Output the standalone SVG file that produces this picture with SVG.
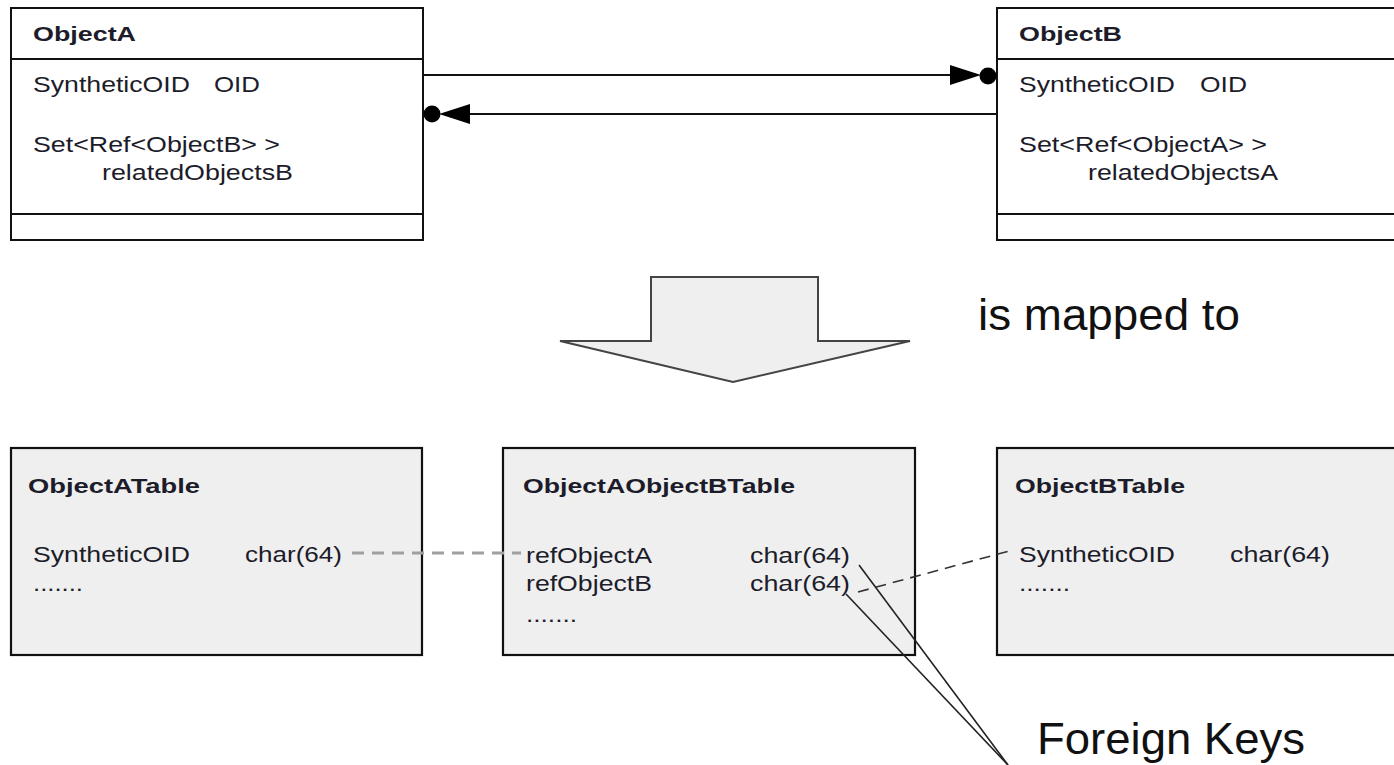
<svg xmlns="http://www.w3.org/2000/svg" width="1394" height="765" viewBox="0 0 1394 765">
<style>
.box{fill:#ffffff;stroke:#111;stroke-width:2}
.tbl{fill:#efefef;stroke:#111;stroke-width:2.2}
.sep{stroke:#111;stroke-width:2}
.t{font-family:"Liberation Sans",Arial,sans-serif;font-size:22px;fill:#1c1c2a}
.b{font-family:"Liberation Sans",Arial,sans-serif;font-size:21px;font-weight:bold;fill:#1c1c2a}
.big{font-family:"Liberation Sans",Arial,sans-serif;font-size:45px;fill:#111}
.conn{stroke:#111;stroke-width:2;fill:none}
</style>
<rect width="1394" height="765" fill="#ffffff"/>
<g id="objectA">
<rect class="box" x="11" y="8" width="412" height="232"/>
<line class="sep" x1="11" y1="59" x2="423" y2="59"/>
<line class="sep" x1="11" y1="214" x2="423" y2="214"/>
<text class="b" x="33" y="41" textLength="103" lengthAdjust="spacingAndGlyphs">ObjectA</text>
<text class="t" x="33" y="92" textLength="157" lengthAdjust="spacingAndGlyphs">SyntheticOID</text>
<text class="t" x="214" y="92" textLength="46" lengthAdjust="spacingAndGlyphs">OID</text>
<text class="t" x="33" y="152" textLength="247" lengthAdjust="spacingAndGlyphs">Set&lt;Ref&lt;ObjectB&gt; &gt;</text>
<text class="t" x="102" y="180" textLength="191" lengthAdjust="spacingAndGlyphs">relatedObjectsB</text>
</g>
<g id="objectB">
<rect class="box" x="997" y="8" width="420" height="232"/>
<line class="sep" x1="997" y1="59" x2="1417" y2="59"/>
<line class="sep" x1="997" y1="214" x2="1417" y2="214"/>
<text class="b" x="1019" y="41" textLength="103" lengthAdjust="spacingAndGlyphs">ObjectB</text>
<text class="t" x="1019" y="92" textLength="156" lengthAdjust="spacingAndGlyphs">SyntheticOID</text>
<text class="t" x="1200" y="92" textLength="47" lengthAdjust="spacingAndGlyphs">OID</text>
<text class="t" x="1019" y="152" textLength="248" lengthAdjust="spacingAndGlyphs">Set&lt;Ref&lt;ObjectA&gt; &gt;</text>
<text class="t" x="1088" y="180" textLength="190" lengthAdjust="spacingAndGlyphs">relatedObjectsA</text>
</g>
<g id="mapping-arrow">
<path d="M651,277 H818 V341 H910 L733,382 L560,341 H651 Z" fill="#efefef" stroke="#444" stroke-width="2" stroke-linejoin="miter"/>
<text class="big" x="978" y="330" textLength="262" lengthAdjust="spacingAndGlyphs">is mapped to</text>
</g>
<g id="objectATable">
<rect class="tbl" x="11" y="448" width="411" height="207"/>
<text class="b" x="28" y="493" textLength="172" lengthAdjust="spacingAndGlyphs">ObjectATable</text>
<text class="t" x="33" y="562" textLength="157" lengthAdjust="spacingAndGlyphs">SyntheticOID</text>
<text class="t" x="245" y="562" textLength="97" lengthAdjust="spacingAndGlyphs">char(64)</text>
<text class="t" x="33" y="591" textLength="50" lengthAdjust="spacingAndGlyphs">.......</text>
</g>
<g id="objectAObjectBTable">
<rect class="tbl" x="503" y="448" width="412" height="207"/>
<text class="b" x="523" y="493" textLength="272" lengthAdjust="spacingAndGlyphs">ObjectAObjectBTable</text>
<text class="t" x="526" y="563" textLength="126" lengthAdjust="spacingAndGlyphs">refObjectA</text>
<text class="t" x="750" y="563" textLength="100" lengthAdjust="spacingAndGlyphs">char(64)</text>
<text class="t" x="526" y="591" textLength="126" lengthAdjust="spacingAndGlyphs">refObjectB</text>
<text class="t" x="750" y="591" textLength="100" lengthAdjust="spacingAndGlyphs">char(64)</text>
<text class="t" x="526" y="622" textLength="51" lengthAdjust="spacingAndGlyphs">.......</text>
</g>
<g id="objectBTable">
<rect class="tbl" x="997" y="448" width="420" height="207"/>
<text class="b" x="1015" y="493" textLength="170" lengthAdjust="spacingAndGlyphs">ObjectBTable</text>
<text class="t" x="1019" y="562" textLength="156" lengthAdjust="spacingAndGlyphs">SyntheticOID</text>
<text class="t" x="1230" y="562" textLength="100" lengthAdjust="spacingAndGlyphs">char(64)</text>
<text class="t" x="1019" y="591" textLength="51" lengthAdjust="spacingAndGlyphs">.......</text>
</g>
<g id="foreign-keys-label">
<text class="big" x="1037" y="754" font-size="43" textLength="268" lengthAdjust="spacingAndGlyphs">Foreign Keys</text>
</g>
<g id="connectors">
<line class="conn" x1="423" y1="75" x2="952" y2="75"/>
<path d="M950,65 L950,85 L981,75 Z" fill="#000"/>
<circle cx="988" cy="76" r="8.5" fill="#000"/>
<line class="conn" x1="997" y1="114" x2="468" y2="114"/>
<path d="M470,104 L470,124 L439,114 Z" fill="#000"/>
<circle cx="432" cy="114" r="8.5" fill="#000"/>
<line x1="352" y1="553" x2="521" y2="553" stroke="#a0a0a0" stroke-width="3" stroke-dasharray="12,8"/>
<line x1="858" y1="592" x2="1013" y2="550" stroke="#333" stroke-width="1.6" stroke-dasharray="11,7"/>
<line x1="859" y1="565" x2="1008" y2="765" stroke="#222" stroke-width="1.6"/>
<line x1="846" y1="594" x2="1008" y2="765" stroke="#222" stroke-width="1.6"/>
</g>
</svg>
